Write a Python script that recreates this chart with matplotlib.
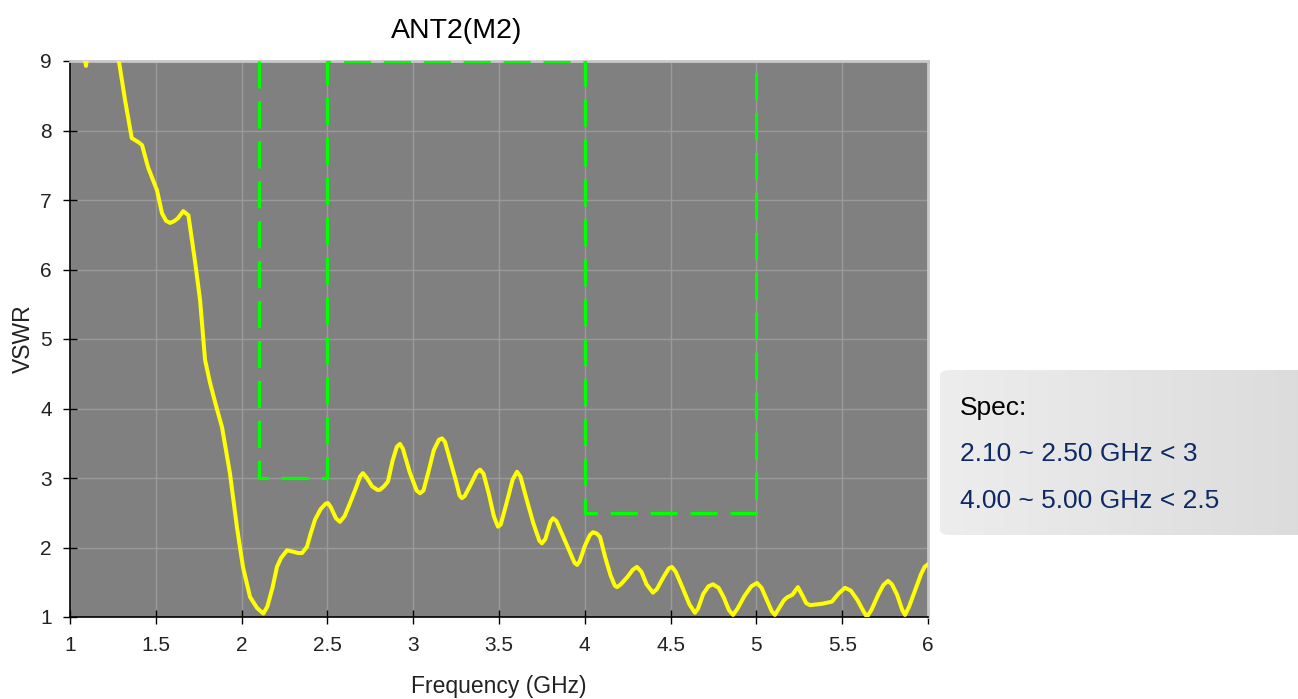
import numpy as np
import matplotlib
matplotlib.use('Agg')
import matplotlib.pyplot as plt
from matplotlib.patches import FancyBboxPatch

plt.rcParams['font.family'] = ['Liberation Sans', 'DejaVu Sans']

# VSWR curve (GHz, VSWR)
freq = [1.07, 1.093, 1.115, 1.2, 1.27, 1.285, 1.32, 1.36, 1.40, 1.42, 1.455, 1.507, 1.536,
        1.56, 1.583, 1.61, 1.63, 1.66, 1.69, 1.73, 1.758, 1.787, 1.816, 1.85, 1.886, 1.932,
        1.973, 2.008, 2.049, 2.09, 2.127, 2.15, 2.18, 2.206, 2.23, 2.265, 2.30, 2.33, 2.352,
        2.381, 2.40, 2.428, 2.46, 2.49, 2.503, 2.52, 2.55, 2.573, 2.60, 2.632, 2.67, 2.69,
        2.707, 2.73, 2.76, 2.79, 2.806, 2.83, 2.853, 2.88, 2.905, 2.923, 2.94, 2.98, 3.02,
        3.04, 3.06, 3.09, 3.12, 3.15, 3.168, 3.185, 3.21, 3.25, 3.27, 3.284, 3.30, 3.33,
        3.37, 3.39, 3.41, 3.44, 3.47, 3.494, 3.51, 3.54, 3.58, 3.605, 3.625, 3.66, 3.70,
        3.735, 3.75, 3.77, 3.80, 3.815, 3.835, 3.87, 3.91, 3.94, 3.955, 3.97, 4.00, 4.03,
        4.048, 4.07, 4.089, 4.12, 4.15, 4.175, 4.188, 4.21, 4.25, 4.28, 4.304, 4.33, 4.36,
        4.397, 4.42, 4.46, 4.49, 4.508, 4.53, 4.57, 4.61, 4.642, 4.66, 4.69, 4.72, 4.747,
        4.78, 4.81, 4.84, 4.864, 4.89, 4.93, 4.97, 5.003, 5.03, 5.06, 5.09, 5.108, 5.13,
        5.16, 5.178, 5.21, 5.242, 5.27, 5.29, 5.312, 5.35, 5.382, 5.44, 5.48, 5.516, 5.55,
        5.59, 5.62, 5.644, 5.67, 5.71, 5.74, 5.767, 5.79, 5.82, 5.85, 5.866, 5.89, 5.93,
        5.96, 5.98, 6.0]
vswr = [9.3, 8.93, 9.3, 10.5, 9.4, 9.0, 8.45, 7.89, 7.83, 7.79, 7.47, 7.14, 6.81,
        6.70, 6.67, 6.70, 6.74, 6.84, 6.78, 6.09, 5.56, 4.70, 4.37, 4.05, 3.73, 3.07,
        2.29, 1.72, 1.29, 1.13, 1.05, 1.15, 1.42, 1.72, 1.85, 1.96, 1.94, 1.92, 1.92,
        2.01, 2.18, 2.40, 2.55, 2.63, 2.64, 2.58, 2.42, 2.37, 2.45, 2.64, 2.88, 3.02,
        3.07, 3.00, 2.88, 2.83, 2.83, 2.88, 2.95, 3.25, 3.45, 3.49, 3.42, 3.08, 2.82,
        2.78, 2.82, 3.10, 3.40, 3.55, 3.57, 3.52, 3.30, 2.95, 2.75, 2.71, 2.74, 2.88,
        3.08, 3.12, 3.06, 2.78, 2.45, 2.30, 2.33, 2.60, 2.98, 3.09, 3.02, 2.70, 2.35,
        2.10, 2.06, 2.12, 2.37, 2.42, 2.38, 2.18, 1.95, 1.78, 1.75, 1.80, 2.02, 2.18,
        2.22, 2.20, 2.15, 1.85, 1.60, 1.45, 1.43, 1.47, 1.58, 1.68, 1.72, 1.65, 1.47,
        1.35, 1.40, 1.58, 1.70, 1.72, 1.65, 1.42, 1.18, 1.06, 1.12, 1.33, 1.44, 1.47,
        1.42, 1.28, 1.10, 1.03, 1.12, 1.30, 1.44, 1.49, 1.42, 1.25, 1.08, 1.03, 1.12,
        1.24, 1.28, 1.32, 1.43, 1.30, 1.20, 1.17, 1.18, 1.19, 1.22, 1.34, 1.42, 1.38,
        1.24, 1.10, 1.00, 1.10, 1.32, 1.46, 1.52, 1.47, 1.32, 1.10, 1.03, 1.15, 1.42,
        1.62, 1.72, 1.76]

# spec mask polyline
mask_f = [2.1, 2.1, 2.5, 2.5, 4.0, 4.0, 5.0, 5.0]
mask_v = [9, 3, 3, 9, 9, 2.5, 2.5, 9]

spec_lines = ['2.10 ~ 2.50 GHz < 3', '4.00 ~ 5.00 GHz < 2.5']

fig = plt.figure(figsize=(12.98, 6.99), dpi=100)
ax = fig.add_axes([70 / 1298, 1 - 617 / 699, 858 / 1298, 556 / 699])
ax.set_facecolor('#808080')

ax.plot(mask_f, mask_v, color='#00ff00', lw=2.3, dashes=[8.5, 4], zorder=3)
ax.plot(freq, vswr, color='#ffff00', lw=2.9, zorder=4)

ax.set_xlim(1, 6)
ax.set_ylim(1, 9)
ax.set_xticks(np.arange(1, 6.01, 0.5))
ax.set_xticklabels(['1', '1.5', '2', '2.5', '3', '3.5', '4', '4.5', '5', '5.5', '6'])
ax.set_yticks(range(1, 10))
ax.grid(True, color='#9a9a9a', lw=1)
ax.set_axisbelow(True)
ax.tick_params(direction='inout', length=10, width=1, labelsize=15, colors='black',
               labelcolor='#222222')
ax.tick_params(axis='y', pad=8)
ax.tick_params(axis='x', pad=9)
for s in ['top', 'right']:
    ax.spines[s].set_color('#c8c8c8')
    ax.spines[s].set_linewidth(2)
for s in ['left', 'bottom']:
    ax.spines[s].set_color('black')
    ax.spines[s].set_linewidth(1.2)

ax.set_xlabel('Frequency (GHz)', fontsize=16.5, color='#222222', labelpad=14)
ax.set_ylabel('VSWR', fontsize=16.5, color='#222222', labelpad=4)
fig.text(457 / 1298, 1 - 31 / 699, 'ANT2(M2)', fontsize=20.5, ha='center', va='center')

# spec box with a soft grey gradient
bax = fig.add_axes([940 / 1298, 1 - 535 / 699, 370 / 1298, 165 / 699])
bax.set_xlim(0, 1)
bax.set_ylim(0, 1)
bax.axis('off')
grad = np.linspace(0.93, 0.86, 256).reshape(1, -1)
img = bax.imshow(np.dstack([grad, grad, grad]), extent=[0, 1, 0, 1], aspect='auto')
box = FancyBboxPatch((0.0, 0.0), 1.0, 1.0, boxstyle='round,pad=0,rounding_size=0.03',
                     transform=bax.transAxes, facecolor='none', edgecolor='none')
bax.add_patch(box)
img.set_clip_path(box)

fig.text(960 / 1298, 1 - 408 / 699, 'Spec:', fontsize=19, color='black', va='center')
fig.text(960 / 1298, 1 - 454 / 699, spec_lines[0], fontsize=19, color='#0d2a66', va='center')
fig.text(960 / 1298, 1 - 501 / 699, spec_lines[1], fontsize=19, color='#0d2a66', va='center')

plt.savefig('out.png', dpi=100)
